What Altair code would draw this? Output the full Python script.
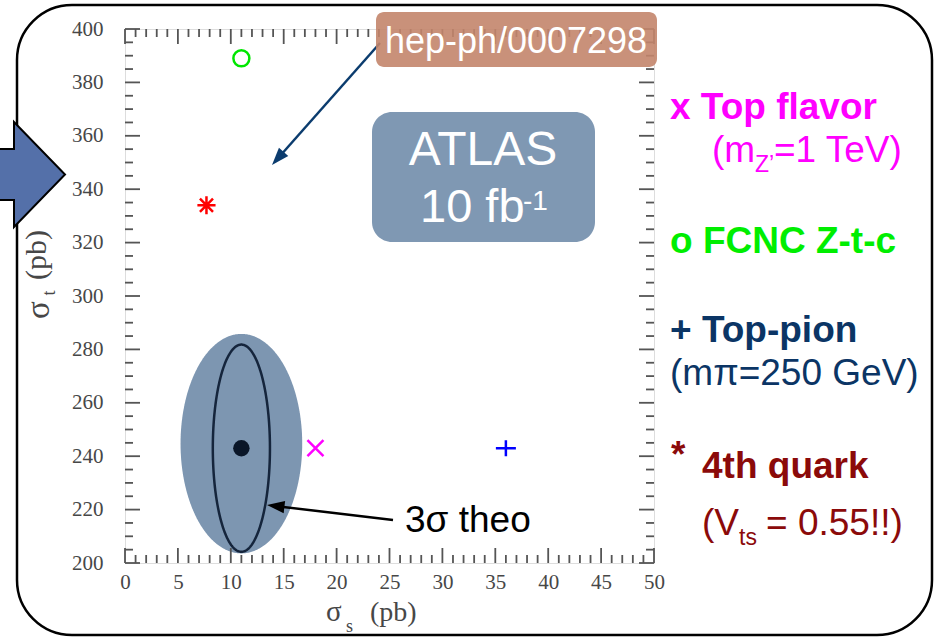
import numpy as np
import pandas as pd
import altair as alt

# ---------------- data ----------------
models = ["Top flavor", "FCNC Z-t-c", "Top-pion", "4th quark"]
sigma_s = [18.0, 11.0, 36.0, 7.7]      # s-channel cross section (pb)
sigma_t = [243.0, 389.0, 243.0, 334.0]  # t-channel cross section (pb)

sm_sigma_s = [11.0]
sm_sigma_t = [243.0]

# uncertainty regions around the SM point: centre (s, t), semi-axes (s, t)
band_centre = [11.0, 244.7]
band_semi = [5.75, 41.1]
theo_centre = [11.0, 243.0]
theo_semi = [2.7, 38.8]

x_major = list(range(0, 51, 5))
x_minor = [v for v in range(0, 51) if v % 5]
y_major = list(range(200, 401, 20))
y_minor = [v for v in range(200, 401, 5) if v % 20]

# ---------------- layout ----------------
W, H = 529, 534
PAD = {"left": 125, "top": 29, "right": 283, "bottom": 74}


def vx(px):
    return px - PAD["left"]


def vy(py):
    return py - PAD["top"]


ONE = alt.Data(values=[{"a": 1}])
XS = alt.Scale(domain=[0, 50], nice=False, zero=False)
YS = alt.Scale(domain=[200, 400], nice=False, zero=False)
LABEL_KW = dict(ticks=False, domain=False, grid=False, title=None,
                labelFont="Liberation Serif", labelFontSize=21,
                labelColor="#474747", labelFlush=False, labelOverlap=False)
X_AX = alt.Axis(values=x_major, labelPadding=8, **LABEL_KW)
Y_AX = alt.Axis(values=y_major, labelPadding=22, **LABEL_KW)

SANS = "Liberation Sans"
SERIF = "Liberation Serif"

layers = []

# slide frame
layers.append(
    alt.Chart(ONE).mark_rect(cornerRadius=55, fill="white", fillOpacity=0,
                             stroke="black", strokeWidth=2.5)
    .encode(x=alt.value(vx(17)), x2=alt.value(vx(932)),
            y=alt.value(vy(5)), y2=alt.value(vy(635)))
)

# big pointer on the left edge
layers.append(
    alt.Chart(ONE).mark_point(
        shape="M -12 -25.5 L 14 -25.5 L 14 -52.5 L 65 0 L 14 52.5 L 14 25.5 L -12 25.5 Z",
        size=4, filled=True, fill="#5470A9", stroke="black", strokeWidth=2,
        opacity=1)
    .encode(x=alt.value(vx(0)), y=alt.value(vy(174.5)))
)

# ---------------- SM uncertainty ellipses ----------------
tb = np.linspace(0, np.pi, 241)
band_df = pd.DataFrame({
    "s": band_centre[0] + band_semi[0] * np.cos(tb),
    "lo": band_centre[1] - band_semi[1] * np.sin(tb),
    "hi": band_centre[1] + band_semi[1] * np.sin(tb),
})
layers.append(
    alt.Chart(band_df).mark_area(color="#7D96B1", opacity=1)
    .encode(x=alt.X("s:Q", scale=XS, axis=X_AX),
            y=alt.Y("lo:Q", scale=YS, axis=Y_AX), y2="hi:Q")
)

to = np.linspace(0, 2 * np.pi, 361)
theo_df = pd.DataFrame({
    "s": theo_centre[0] + theo_semi[0] * np.cos(to),
    "t": theo_centre[1] + theo_semi[1] * np.sin(to),
    "k": np.arange(len(to)),
})
layers.append(
    alt.Chart(theo_df).mark_line(color="#15253C", strokeWidth=2.5)
    .encode(x=alt.X("s:Q", scale=XS, axis=X_AX),
            y=alt.Y("t:Q", scale=YS, axis=Y_AX), order="k:Q")
)

sm_df = pd.DataFrame({"s": sm_sigma_s, "t": sm_sigma_t})
layers.append(
    alt.Chart(sm_df).mark_circle(size=270, color="#0A1628", opacity=1)
    .encode(x=alt.X("s:Q", scale=XS, axis=X_AX),
            y=alt.Y("t:Q", scale=YS, axis=Y_AX))
)

# ---------------- model predictions ----------------
pts = pd.DataFrame({"model": models, "s": sigma_s, "t": sigma_t})
marker = {
    "Top flavor": ("M -1 -1 L 1 1 M -1 1 L 1 -1", 256, "#FF00FF"),
    "FCNC Z-t-c": ("circle", 256, "#00E600"),
    "Top-pion": ("M -1 0 L 1 0 M 0 -0.8 L 0 0.8", 400, "#0000FF"),
    "4th quark": ("M -1 0 L 1 0 M 0 -1 L 0 1 M -0.72 -0.72 L 0.72 0.72 "
                  "M -0.72 0.72 L 0.72 -0.72", 330, "#FF0000"),
}
for m in models:
    shp, sz, col = marker[m]
    layers.append(
        alt.Chart(pts[pts.model == m]).mark_point(
            shape=shp, size=sz, color=col, filled=False, strokeWidth=2.5,
            opacity=1)
        .encode(x=alt.X("s:Q", scale=XS, axis=X_AX),
                y=alt.Y("t:Q", scale=YS, axis=Y_AX))
    )

# ---------------- frame ticks (inward, all four sides) ----------------
TICK = dict(color="#555555", strokeWidth=1.8)
for vals, ln in ((x_major, 15), (x_minor, 8)):
    d = pd.DataFrame({"v": vals})
    xe = alt.X("v:Q", scale=XS, axis=X_AX)
    layers.append(alt.Chart(d).mark_rule(**TICK).encode(
        x=xe, y=alt.value(H), y2=alt.value(H - ln)))
    layers.append(alt.Chart(d).mark_rule(**TICK).encode(
        x=xe, y=alt.value(0), y2=alt.value(ln)))
for vals, ln in ((y_major, 15), (y_minor, 8)):
    d = pd.DataFrame({"v": vals})
    ye = alt.Y("v:Q", scale=YS, axis=Y_AX)
    layers.append(alt.Chart(d).mark_rule(**TICK).encode(
        y=ye, x=alt.value(0), x2=alt.value(ln)))
    layers.append(alt.Chart(d).mark_rule(**TICK).encode(
        y=ye, x=alt.value(W), x2=alt.value(W - ln)))


# ---------------- annotation helpers ----------------
def box(x0, y0, x1, y1, fill, radius, opacity=1.0):
    return alt.Chart(ONE).mark_rect(cornerRadius=radius, color=fill,
                                    opacity=opacity).encode(
        x=alt.value(vx(x0)), x2=alt.value(vx(x1)),
        y=alt.value(vy(y0)), y2=alt.value(vy(y1)))


def text(txt, px, py, size, color, weight="normal", align="left",
         font=SANS, angle=0):
    return alt.Chart(ONE).mark_text(
        text=txt, font=font, fontSize=size, fontWeight=weight, color=color,
        align=align, baseline="alphabetic", angle=angle).encode(
        x=alt.value(vx(px)), y=alt.value(vy(py)))


def arrow(p0, p1, color, width=2.5, head=10):
    (x0, y0), (x1, y1) = p0, p1
    dx, dy = x1 - x0, y1 - y0
    ln = float(np.hypot(dx, dy))
    ang = float(np.degrees(np.arctan2(dx, -dy)) % 360)
    back = 1.2 * head
    xe, ye = x1 - dx / ln * back, y1 - dy / ln * back
    line = alt.Chart(ONE).mark_rule(color=color, strokeWidth=width).encode(
        x=alt.value(vx(x0)), y=alt.value(vy(y0)),
        x2=alt.value(vx(xe)), y2=alt.value(vy(ye)))
    tip = alt.Chart(ONE).mark_point(
        shape="M 0 0 L -0.62 1.75 L 0.62 1.75 Z", size=4 * head * head,
        filled=True, color=color, opacity=1, angle=ang, strokeWidth=0).encode(
        x=alt.value(vx(x1)), y=alt.value(vy(y1)))
    return [line, tip]


# ATLAS luminosity badge
layers.append(box(372, 112, 595, 242, "#7F98B3", 20))
layers.append(text("ATLAS", 483, 165, 48, "white", align="center"))
layers.append(text("10 fb", 420, 222, 47, "white"))
layers.append(text("-1", 523, 210, 28, "white"))

# reference tag with pointer
layers += arrow((380, 43), (272, 165), "#0B3C6E")
layers.append(box(376, 12, 657, 67, "#C3856B", 8, opacity=0.9))
layers.append(text("hep-ph/0007298", 516, 53, 36, "white", align="center"))

# 3 sigma theory label
layers += arrow((393, 520), (267, 505), "black")
layers.append(text("3σ theo", 405, 532, 37, "black"))

# axis titles
layers.append(text("σ", 326, 621, 29, "#474747", font=SERIF))
layers.append(text("s", 346, 632, 18, "#474747", font=SERIF))
layers.append(text("(pb)", 370, 621, 28, "#474747", font=SERIF))
layers.append(text("σ", 49, 310, 33, "#474747", align="center", font=SERIF, angle=270))
layers.append(text("t", 55, 293, 18, "#474747", align="center", font=SERIF, angle=270))
layers.append(text("(pb)", 46, 255, 30, "#474747", align="center", font=SERIF, angle=270))

# model key
MAG, GRN, NAVY, DRED = "#FF00FF", "#00EE00", "#0B3565", "#8B0A0A"
layers.append(text("x Top flavor", 670, 119, 37, MAG, weight="bold"))
layers.append(text("(m", 712, 162, 37, MAG))
layers.append(text("Z’", 755, 172, 23, MAG))
layers.append(text("=1 TeV)", 774, 162, 37, MAG))
layers.append(text("o FCNC Z-t-c", 670, 253, 37, GRN, weight="bold"))
layers.append(text("+ Top-pion", 670, 342, 37, NAVY, weight="bold"))
layers.append(text("(mπ=250 GeV)", 670, 385, 37, NAVY))
layers.append(text("*", 671, 467, 37, DRED, weight="bold"))
layers.append(text("4th quark", 702, 478, 37, DRED, weight="bold"))
layers.append(text("(V", 702, 535, 37, DRED))
layers.append(text("ts", 739, 545, 23, DRED))
layers.append(text("= 0.55!!)", 766, 535, 37, DRED))

chart = (
    alt.layer(*layers)
    .properties(width=W, height=H, padding=PAD,
                autosize=alt.AutoSizeParams(type="none"))
    .configure_view(stroke="#555555", strokeWidth=2)
    .configure(background="white")
)

chart.save("out.html", embed_options={"renderer": "svg", "actions": False})
